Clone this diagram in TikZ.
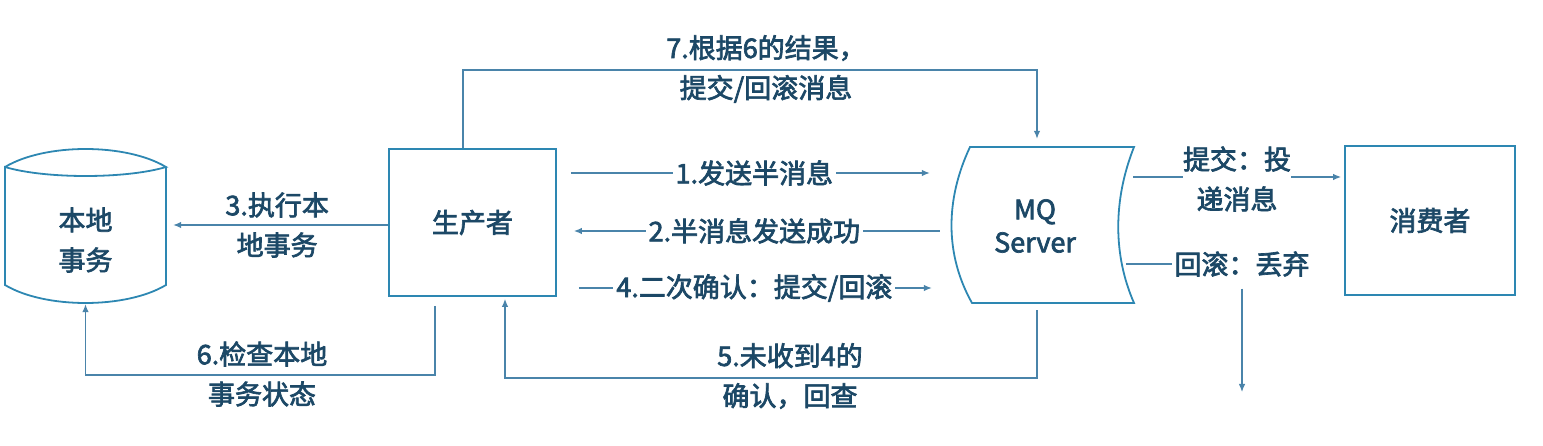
\documentclass[tikz,border=0pt]{standalone}
\usepackage{fontspec}
\setmainfont{Noto Sans CJK SC}[FakeBold=2.5]
\usetikzlibrary{arrows.meta,calc}
\definecolor{boxc}{RGB}{45,135,178}
\definecolor{linec}{RGB}{74,132,170}
\definecolor{txtc}{RGB}{28,72,102}
\begin{document}
\begin{tikzpicture}[x=1pt,y=-1pt,
  lbl/.style={text=txtc, font=\fontsize{27}{40}\selectfont, align=center, inner sep=0pt},
  lbl1/.style={lbl, fill=white, inner xsep=3pt},
  box/.style={draw=boxc, line width=1.8pt},
  conn/.style={draw=linec, line width=1.2pt},
  arr/.style={conn, -{Latex[length=8pt,width=6.5pt]}}]
\useasboundingbox (0,0) rectangle (1543,446);
% shapes
\draw[box] (5,167) .. controls (45,143) and (126,143) .. (166,167)
  .. controls (126,179) and (45,179) .. (5,167) -- (5,285)
  .. controls (45,309) and (126,309) .. (166,285) -- (166,167);
\draw[box] (970,147) -- (1134,147) .. controls (1113,200) and (1113,255) .. (1134,303)
  -- (972,303) .. controls (945,255) and (945,200) .. (970,147) -- cycle;
% nodes
\node[box, lbl, minimum width=167pt, minimum height=147pt] (prod) at (472.5,222.5) {生产者};
\node[box, lbl, minimum width=170pt, minimum height=149pt] (cons) at (1430,220.5) {消费者};
\node[lbl, minimum width=161pt, minimum height=126pt] (db) at (85.5,240) {本地\\事务};
\node[lbl, font=\fontsize{27}{33}\selectfont, minimum width=166pt, minimum height=156pt] (mq) at (1035,226) {MQ\\Server};
% rows
\coordinate (r1) at (0,173);
\coordinate (r2) at (0,231);
\coordinate (r3) at (0,225);
\coordinate (r4) at (0,288);
\coordinate (r5) at (0,378);
\coordinate (r6) at (0,375);
\coordinate (r7) at (0,70);
\coordinate (rc) at (0,177);
\coordinate (drop) at (1243,392);
% connectors
\draw[arr, shorten <=14pt, shorten >=22pt] (prod.east |- r1) -- node[lbl1]{1.发送半消息} (mq.west |- r1);
\draw[arr, shorten <=12pt, shorten >=17pt] (mq.west |- r2) -- node[lbl1]{2.半消息发送成功} (prod.east |- r2);
\draw[arr, shorten <=22pt, shorten >=20pt] (prod.east |- r4) -- node[lbl1]{4.二次确认：提交/回滚} (mq.west |- r4);
\draw[arr, shorten >=7pt] (prod.west |- r3) -- node[lbl]{3.执行本\\地事务} (db.east |- r3);
\draw[arr, shorten >=9pt] ([xshift=-9.5pt]prod.north) -- ([xshift=-9.5pt]prod.north |- r7) -- ([xshift=2pt]mq.north |- r7) -- ([xshift=2pt]mq.north);
\node[lbl] (l7) at (766,69) {7.根据6的结果，\\提交/回滚消息};
\draw[arr, shorten <=9pt, shorten >=1pt] ([xshift=-37.5pt]prod.south) |- (db.south |- r6) -- (db.south);
\node[lbl] (l6) at (262,374) {6.检查本地\\事务状态};
\draw[arr, shorten <=6pt, shorten >=2pt] ([xshift=2pt]mq.south) |- ([xshift=32.5pt]prod.south |- r5) -- ([xshift=32.5pt]prod.south);
\node[lbl] (l5) at (790,376) {5.未收到4的\\确认，回查};
\draw[arr, shorten >=3pt] ($(mq.east |- rc)+(15,0)$) -- (cons.west |- rc);
\node[lbl, fill=white, inner xsep=0pt] (lc) at (1237,179) {提交：投\\递消息};
\node[lbl, inner xsep=2pt] (rb) at (1242,264) {回滚：丢弃};
\draw[conn] ($(mq.east |- rb)+(8,0)$) -- (rb.west);
\draw[arr, shorten <=12pt] (rb.south) -- (rb.south |- drop);
\end{tikzpicture}
\end{document}
